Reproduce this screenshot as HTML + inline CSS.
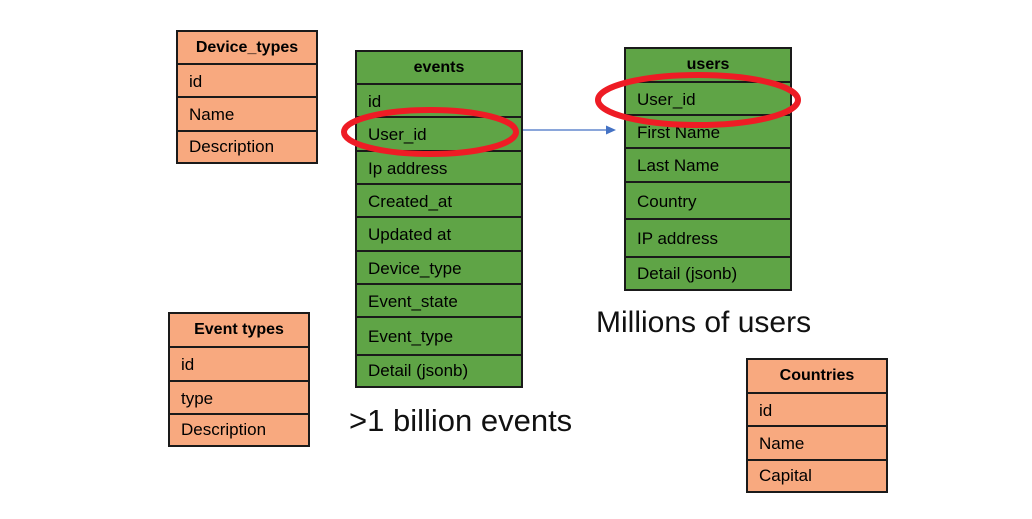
<!DOCTYPE html>
<html><head><meta charset="utf-8"><style>
body{margin:0;width:1032px;height:519px;background:#fff;position:relative;overflow:hidden;font-family:"Liberation Sans","DejaVu Sans",sans-serif}
.t{position:absolute;border:2px solid #1a1a1a;box-sizing:border-box}
.r{position:absolute;left:0;right:0;margin-top:-2px;border-top:2px solid #1a1a1a;box-sizing:border-box;font-size:17px;padding-left:11px;display:flex;align-items:center}
.h{position:absolute;left:0;right:0;top:0;font-weight:bold;font-size:16px;display:flex;align-items:center;justify-content:center}
.o{background:#f8a97f}.g{background:#5fa446}
.big{position:absolute;font-size:30px;color:#111;white-space:nowrap}
</style></head><body>

<div class="t o" style="left:176px;top:30px;width:142px;height:134px">
<div class="h" style="height:31px">Device_types</div>
<div class="r" style="top:33px;height:35px">id</div>
<div class="r" style="top:66px;height:36px">Name</div>
<div class="r" style="top:100px;height:32px">Description</div>
</div>

<div class="t o" style="left:168px;top:312px;width:142px;height:135px">
<div class="h" style="height:32px">Event types</div>
<div class="r" style="top:34px;height:36px">id</div>
<div class="r" style="top:68px;height:35px">type</div>
<div class="r" style="top:101px;height:32px">Description</div>
</div>

<div class="t o" style="left:746px;top:358px;width:142px;height:135px">
<div class="h" style="height:32px">Countries</div>
<div class="r" style="top:34px;height:35px">id</div>
<div class="r" style="top:67px;height:36px">Name</div>
<div class="r" style="top:101px;height:32px">Capital</div>
</div>

<div class="t g" style="left:355px;top:50px;width:168px;height:338px">
<div class="h" style="height:31px">events</div>
<div class="r" style="top:33px;height:35px">id</div>
<div class="r" style="top:66px;height:36px">User_id</div>
<div class="r" style="top:100px;height:35px">Ip address</div>
<div class="r" style="top:133px;height:35px">Created_at</div>
<div class="r" style="top:166px;height:36px">Updated at</div>
<div class="r" style="top:200px;height:35px">Device_type</div>
<div class="r" style="top:233px;height:35px">Event_state</div>
<div class="r" style="top:266px;height:40px">Event_type</div>
<div class="r" style="top:304px;height:32px">Detail (jsonb)</div>
</div>

<div class="t g" style="left:624px;top:47px;width:168px;height:244px">
<div class="h" style="height:32px">users</div>
<div class="r" style="top:34px;height:35px">User_id</div>
<div class="r" style="top:67px;height:35px">First Name</div>
<div class="r" style="top:100px;height:36px">Last Name</div>
<div class="r" style="top:134px;height:39px">Country</div>
<div class="r" style="top:171px;height:40px">IP address</div>
<div class="r" style="top:209px;height:33px">Detail (jsonb)</div>
</div>

<div class="big" style="left:596px;top:306px">Millions of users</div>
<div class="big" style="left:349px;top:403px;font-size:31px">&gt;1 billion events</div>

<svg width="1032" height="519" style="position:absolute;left:0;top:0">
<line x1="523" y1="130" x2="608" y2="130" stroke="#4472c4" stroke-width="1.3"/>
<polygon points="616,130 606,125.5 606,134.5" fill="#4472c4"/>
<ellipse cx="430" cy="132" rx="86" ry="22" fill="none" stroke="#ee1c25" stroke-width="6"/>
<ellipse cx="698" cy="100" rx="100" ry="25" fill="none" stroke="#ee1c25" stroke-width="6"/>
</svg>
</body></html>
